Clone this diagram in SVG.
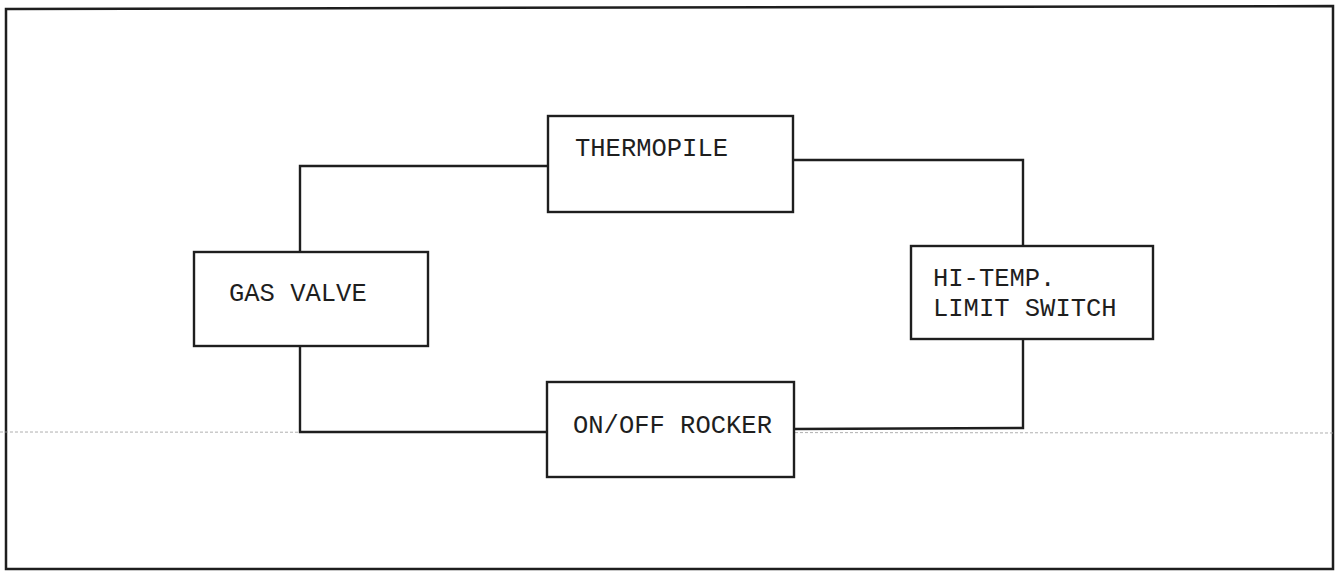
<svg xmlns="http://www.w3.org/2000/svg" width="1335" height="575" viewBox="0 0 1335 575">
<style>
.box{fill:#fff;stroke:#1e1e1e;stroke-width:2.4}
.wire{fill:none;stroke:#1e1e1e;stroke-width:2.4}
.lbl{font-family:"Liberation Mono","DejaVu Sans Mono",monospace;font-size:25.5px;letter-spacing:0px;fill:#1e1e1e}
</style>
<rect x="0" y="0" width="1335" height="575" fill="#fff"/>
<path d="M6,9 L1333,6 L1333,569 L6,569 Z" fill="none" stroke="#1e1e1e" stroke-width="2.5"/>
<line x1="0" y1="432" x2="1335" y2="433" stroke="#9a9a9a" stroke-width="0.8" stroke-dasharray="3,2"/>
<g id="connectors">
<path class="wire" d="M548,166 L300,166 L300,252"/>
<path class="wire" d="M793,160 L1023,160 L1023,246"/>
<path class="wire" d="M300,346 L300,432 L547,432"/>
<path class="wire" d="M1023,339 L1023,428 L794,429"/>
</g>
<g id="thermopile">
<rect class="box" x="548" y="116" width="245" height="96"/>
<text class="lbl" x="575" y="156">THERMOPILE</text>
</g>
<g id="gas-valve">
<rect class="box" x="194" y="252" width="234" height="94"/>
<text class="lbl" x="229" y="301">GAS VALVE</text>
</g>
<g id="hi-temp">
<rect class="box" x="911" y="246" width="242" height="93"/>
<text class="lbl" x="933" y="286">HI-TEMP.</text>
<text class="lbl" x="933" y="316">LIMIT SWITCH</text>
</g>
<g id="on-off-rocker">
<rect class="box" x="547" y="382" width="247" height="95"/>
<text class="lbl" x="573" y="433">ON/OFF ROCKER</text>
</g>
</svg>
